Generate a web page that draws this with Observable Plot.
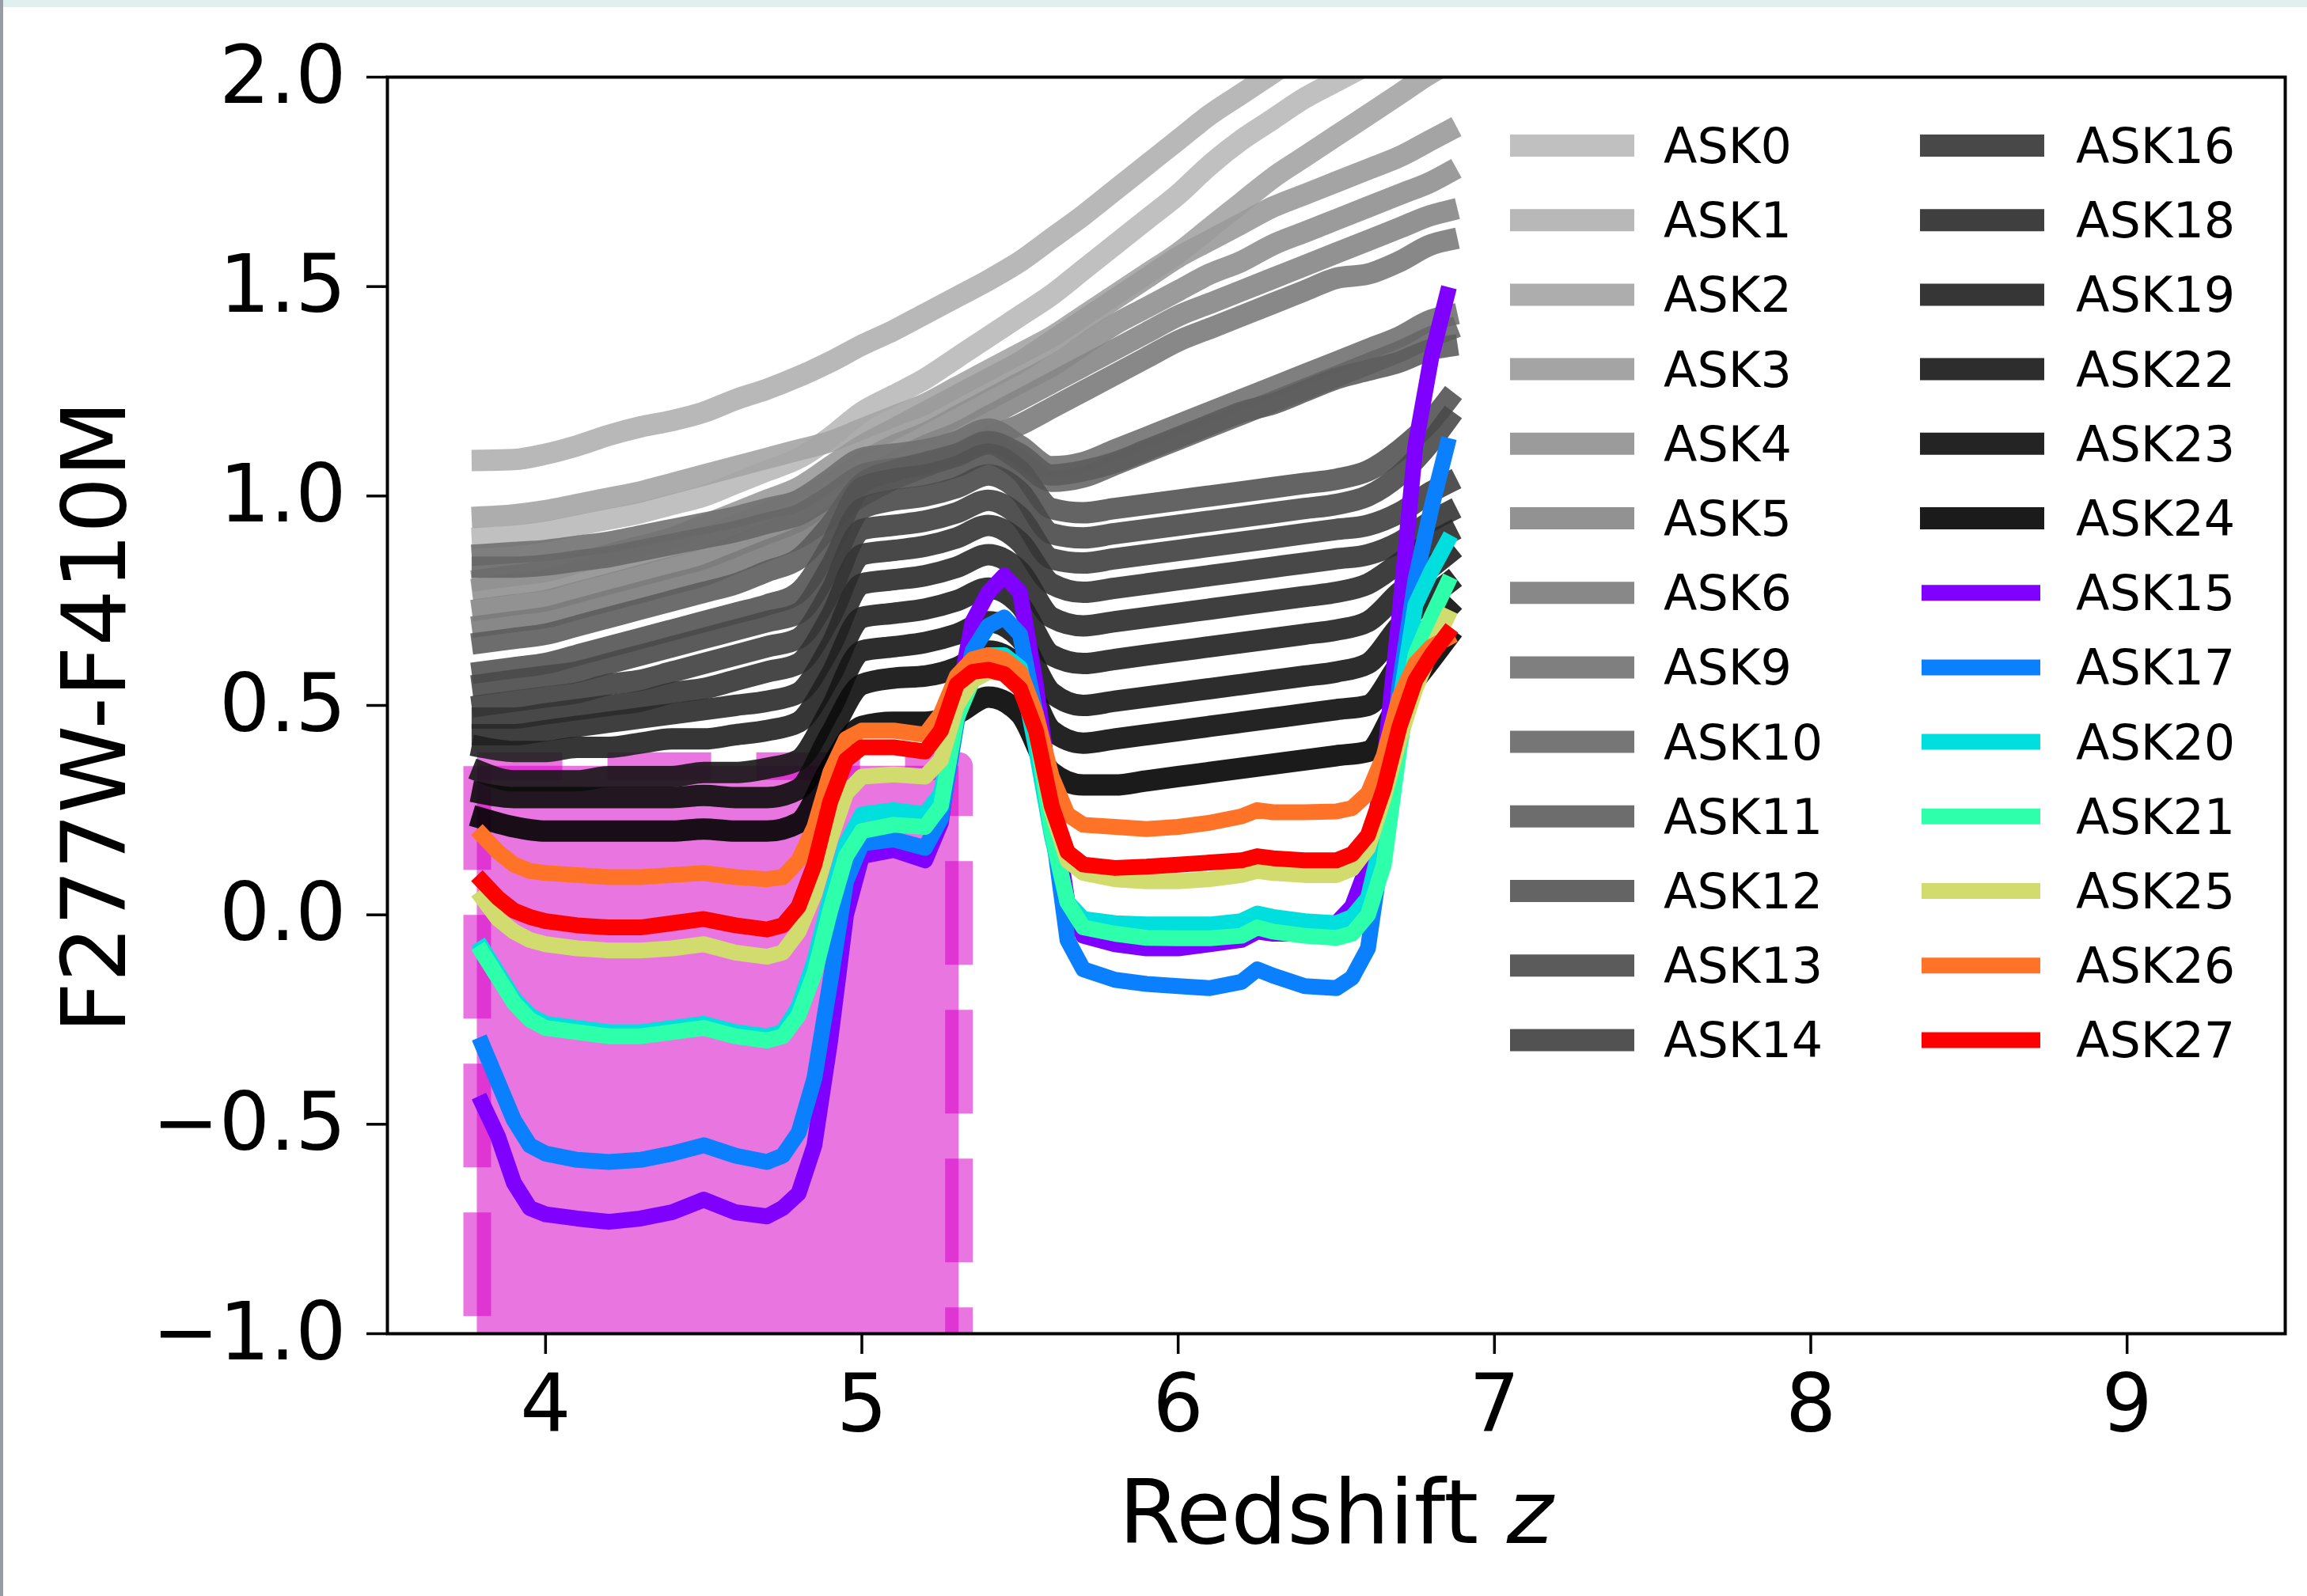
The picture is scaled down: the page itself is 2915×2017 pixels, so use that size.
<!DOCTYPE html>
<html><head><meta charset="utf-8">
<script src="https://cdn.jsdelivr.net/npm/d3@7"></script>
<script src="https://cdn.jsdelivr.net/npm/@observablehq/plot@0.6"></script>
<style>
html,body{margin:0;padding:0;background:#fff;}
#wrap{position:relative;width:2915px;height:2017px;overflow:hidden;background:#fff;}
#topband{position:absolute;left:0;top:0;width:2915px;height:9px;background:#dff0ef;}
#leftband{position:absolute;left:0;top:0;width:4px;height:2017px;background:#979da6;}
</style></head><body><div id="wrap"><div id="topband"></div><div id="leftband"></div></div>
<script>
// ---------- axes / ticks ----------
const xTicks = [4, 5, 6, 7, 8, 9];
const yTicks = [-1.0, -0.5, 0.0, 0.5, 1.0, 1.5, 2.0];
const xDomain = [3.5, 9.5];
const yDomain = [-1.0, 2.0];
const xLabel = "Redshift ";
const xLabelItalic = "z";
const yLabel = "F277W-F410M";

// ---------- highlighted redshift window ----------
const bandX = [3.784, 5.307];
const bandY = [-1.1, 0.355];

// ---------- grey templates: redshift grid ----------
const zGray = [3.8,3.9,4.0,4.1,4.2,4.3,4.4,4.5,4.6,4.7,4.8,4.9,5.0,5.1,5.2,5.3,5.4,5.5,5.6,5.7,5.8,5.9,6.0,6.1,6.2,6.3,6.4,6.5,6.6,6.7,6.8,6.85];

const ASK0  = [0.90,0.905,0.915,0.93,0.945,0.96,0.98,1.00,1.03,1.06,1.09,1.14,1.20,1.24,1.28,1.33,1.38,1.43,1.48,1.54,1.60,1.66,1.72,1.79,1.85,1.90,1.95,1.99,2.03,2.07,2.10,2.12];
const ASK1  = [1.085,1.087,1.10,1.12,1.145,1.165,1.18,1.20,1.23,1.255,1.285,1.32,1.36,1.395,1.435,1.475,1.515,1.56,1.615,1.67,1.73,1.79,1.85,1.91,1.96,2.01,2.06,2.10,2.14,2.18,2.22,2.24];
const ASK2  = [0.95,0.955,0.965,0.98,0.995,1.01,1.03,1.05,1.07,1.09,1.11,1.13,1.16,1.19,1.22,1.26,1.30,1.34,1.38,1.43,1.48,1.53,1.58,1.64,1.70,1.76,1.81,1.86,1.91,1.96,2.01,2.03];
const ASK3  = [0.80,0.81,0.82,0.84,0.86,0.88,0.90,0.93,0.96,0.99,1.02,1.07,1.12,1.16,1.20,1.24,1.28,1.32,1.37,1.42,1.47,1.52,1.57,1.61,1.65,1.69,1.72,1.75,1.78,1.81,1.85,1.87];
const ASK4  = [0.78,0.79,0.80,0.82,0.84,0.86,0.88,0.90,0.93,0.96,0.99,1.03,1.08,1.12,1.15,1.19,1.23,1.27,1.31,1.36,1.41,1.45,1.49,1.53,1.56,1.60,1.63,1.66,1.69,1.72,1.75,1.77];
const ASK5  = [0.73,0.74,0.75,0.77,0.79,0.81,0.83,0.85,0.88,0.91,0.94,0.99,1.04,1.08,1.12,1.15,1.19,1.23,1.27,1.31,1.35,1.39,1.43,1.46,1.49,1.52,1.55,1.58,1.61,1.64,1.67,1.68];
const ASK6  = [0.69,0.70,0.71,0.73,0.75,0.77,0.79,0.81,0.84,0.87,0.90,0.95,1.00,1.04,1.07,1.10,1.14,1.17,1.21,1.25,1.29,1.33,1.37,1.40,1.43,1.46,1.49,1.52,1.53,1.56,1.60,1.61];
const ASK9  = [0.86,0.865,0.87,0.88,0.89,0.905,0.92,0.935,0.95,0.97,0.99,1.04,1.09,1.10,1.11,1.13,1.16,1.12,1.07,1.08,1.11,1.14,1.17,1.20,1.23,1.26,1.29,1.32,1.35,1.38,1.42,1.43];
const ASK10 = [0.83,0.83,0.835,0.845,0.855,0.87,0.885,0.90,0.915,0.935,0.955,1.00,1.05,1.065,1.075,1.095,1.125,1.085,1.035,1.045,1.075,1.105,1.135,1.165,1.195,1.225,1.255,1.285,1.315,1.345,1.38,1.395];
const ASK11 = [0.65,0.66,0.67,0.69,0.71,0.73,0.75,0.77,0.79,0.82,0.85,0.93,1.03,1.06,1.08,1.10,1.13,1.10,1.05,1.06,1.08,1.11,1.14,1.17,1.20,1.22,1.25,1.28,1.30,1.32,1.35,1.357];
const ASK12 = [0.58,0.59,0.60,0.62,0.64,0.66,0.68,0.70,0.72,0.74,0.77,0.88,1.02,1.04,1.05,1.07,1.10,1.06,0.97,0.96,0.97,0.98,0.99,1.00,1.01,1.02,1.03,1.04,1.06,1.11,1.18,1.227];
const ASK13 = [0.55,0.56,0.57,0.58,0.60,0.62,0.64,0.66,0.68,0.70,0.72,0.83,0.97,0.99,1.00,1.02,1.05,1.01,0.91,0.90,0.91,0.92,0.93,0.94,0.95,0.96,0.97,0.98,1.00,1.05,1.13,1.18];
const ASK14 = [0.50,0.51,0.52,0.53,0.55,0.56,0.58,0.60,0.62,0.64,0.66,0.77,0.92,0.93,0.94,0.96,0.99,0.95,0.85,0.84,0.85,0.86,0.87,0.88,0.89,0.90,0.91,0.92,0.93,0.96,1.01,1.03];
const ASK16 = [0.47,0.47,0.48,0.49,0.50,0.51,0.53,0.54,0.56,0.58,0.60,0.71,0.86,0.87,0.88,0.90,0.93,0.89,0.79,0.77,0.78,0.79,0.80,0.81,0.82,0.83,0.84,0.85,0.86,0.89,0.94,0.96];
const ASK18 = [0.43,0.43,0.44,0.45,0.46,0.47,0.48,0.49,0.50,0.51,0.53,0.64,0.79,0.80,0.81,0.83,0.86,0.82,0.71,0.69,0.70,0.71,0.72,0.73,0.74,0.75,0.76,0.77,0.79,0.84,0.89,0.91];
const ASK19 = [0.40,0.39,0.39,0.40,0.40,0.41,0.42,0.42,0.43,0.44,0.46,0.57,0.71,0.72,0.73,0.75,0.78,0.74,0.62,0.60,0.61,0.62,0.63,0.64,0.65,0.66,0.67,0.68,0.70,0.77,0.83,0.86];
const ASK22 = [0.34,0.32,0.32,0.32,0.33,0.33,0.33,0.34,0.34,0.35,0.37,0.49,0.63,0.64,0.65,0.67,0.70,0.66,0.53,0.50,0.51,0.52,0.53,0.54,0.55,0.56,0.57,0.58,0.60,0.69,0.76,0.79];
const ASK23 = [0.29,0.28,0.28,0.28,0.28,0.28,0.28,0.285,0.28,0.28,0.30,0.43,0.55,0.565,0.57,0.59,0.63,0.59,0.44,0.41,0.42,0.43,0.44,0.45,0.46,0.47,0.48,0.49,0.50,0.60,0.69,0.73];
const ASK24 = [0.23,0.21,0.20,0.20,0.20,0.20,0.20,0.205,0.20,0.20,0.22,0.35,0.45,0.46,0.46,0.48,0.52,0.48,0.34,0.31,0.31,0.32,0.33,0.34,0.35,0.36,0.37,0.38,0.39,0.51,0.61,0.66];

const grayNames  = ["ASK0","ASK1","ASK2","ASK3","ASK4","ASK5","ASK6","ASK9","ASK10","ASK11","ASK12","ASK13","ASK14","ASK16","ASK18","ASK19","ASK22","ASK23","ASK24"];
const grayValues = [ASK0,ASK1,ASK2,ASK3,ASK4,ASK5,ASK6,ASK9,ASK10,ASK11,ASK12,ASK13,ASK14,ASK16,ASK18,ASK19,ASK22,ASK23,ASK24];
const grayColors = ["#b9b9b9","#b0b0b0","#a4a4a4","#9a9a9a","#909090","#868686","#7b7b7b","#717171","#676767","#5d5d5d","#535353","#494949","#3f3f3f","#343434","#2a2a2a","#202020","#161616","#0c0c0c","#020202"];

// ---------- coloured templates ----------
const zColor = [3.8,3.85,3.9,3.95,4.0,4.1,4.2,4.3,4.4,4.5,4.6,4.7,4.75,4.8,4.85,4.9,4.95,5.0,5.1,5.2,5.25,5.3,5.35,5.4,5.45,5.5,5.55,5.6,5.65,5.7,5.8,5.9,6.0,6.1,6.2,6.25,6.3,6.4,6.5,6.55,6.6,6.65,6.7,6.75,6.8,6.85];

const ASK15 = [-0.45,-0.53,-0.64,-0.70,-0.715,-0.725,-0.733,-0.725,-0.71,-0.68,-0.71,-0.72,-0.70,-0.665,-0.55,-0.30,0.0,0.14,0.155,0.13,0.22,0.50,0.70,0.77,0.81,0.77,0.55,0.28,0.03,-0.05,-0.07,-0.08,-0.08,-0.07,-0.06,-0.04,-0.045,-0.045,-0.02,0.02,0.12,0.35,0.72,1.12,1.33,1.48];
const ASK17 = [-0.31,-0.40,-0.49,-0.55,-0.57,-0.585,-0.59,-0.585,-0.57,-0.55,-0.575,-0.59,-0.575,-0.52,-0.39,-0.16,0.08,0.17,0.18,0.16,0.23,0.46,0.63,0.69,0.71,0.67,0.48,0.22,-0.06,-0.13,-0.155,-0.165,-0.17,-0.175,-0.16,-0.13,-0.145,-0.17,-0.175,-0.15,-0.08,0.18,0.55,0.80,0.97,1.12];
const ASK20 = [-0.08,-0.14,-0.20,-0.24,-0.26,-0.27,-0.28,-0.28,-0.27,-0.26,-0.28,-0.29,-0.28,-0.22,-0.11,0.04,0.17,0.24,0.25,0.24,0.29,0.48,0.59,0.62,0.62,0.59,0.40,0.19,0.03,-0.01,-0.02,-0.023,-0.023,-0.023,-0.015,0.003,-0.005,-0.015,-0.02,-0.005,0.04,0.20,0.50,0.74,0.82,0.89];
const ASK21 = [-0.09,-0.15,-0.21,-0.25,-0.27,-0.28,-0.29,-0.29,-0.28,-0.27,-0.29,-0.30,-0.29,-0.24,-0.14,0.01,0.14,0.20,0.215,0.21,0.26,0.47,0.56,0.58,0.58,0.56,0.44,0.20,0.03,-0.03,-0.045,-0.055,-0.056,-0.056,-0.05,-0.03,-0.04,-0.05,-0.055,-0.045,0.0,0.12,0.40,0.62,0.71,0.79];
const ASK25 = [0.04,-0.01,-0.04,-0.06,-0.07,-0.08,-0.085,-0.085,-0.08,-0.07,-0.09,-0.10,-0.09,-0.04,0.05,0.18,0.29,0.33,0.335,0.33,0.37,0.50,0.56,0.58,0.58,0.56,0.44,0.25,0.13,0.10,0.085,0.08,0.08,0.085,0.095,0.105,0.10,0.095,0.095,0.11,0.16,0.28,0.42,0.54,0.63,0.71];
const ASK26 = [0.19,0.15,0.12,0.105,0.10,0.095,0.09,0.09,0.095,0.10,0.09,0.085,0.09,0.13,0.21,0.34,0.42,0.44,0.44,0.43,0.48,0.57,0.61,0.62,0.61,0.58,0.48,0.33,0.24,0.215,0.21,0.205,0.21,0.22,0.235,0.25,0.245,0.245,0.247,0.255,0.29,0.38,0.52,0.60,0.64,0.66];
const ASK27 = [0.08,0.04,0.01,-0.005,-0.015,-0.025,-0.03,-0.03,-0.02,-0.01,-0.025,-0.035,-0.025,0.02,0.12,0.27,0.37,0.40,0.40,0.39,0.44,0.55,0.58,0.585,0.575,0.54,0.44,0.26,0.15,0.12,0.112,0.115,0.12,0.125,0.13,0.14,0.135,0.13,0.13,0.145,0.19,0.30,0.45,0.56,0.62,0.67];

const colorNames  = ["ASK15","ASK17","ASK20","ASK21","ASK25","ASK26","ASK27"];
const colorValues = [ASK15,ASK17,ASK20,ASK21,ASK25,ASK26,ASK27];
const colorColors = ["#8000ff","#0a80ff","#00dede","#2effaa","#d2dc6e","#ff7328","#ff0000"];

// legend columns (order as in the reference)
const legendCol1 = ["ASK0","ASK1","ASK2","ASK3","ASK4","ASK5","ASK6","ASK9","ASK10","ASK11","ASK12","ASK13","ASK14"];
const legendCol2 = ["ASK16","ASK18","ASK19","ASK22","ASK23","ASK24","ASK15","ASK17","ASK20","ASK21","ASK25","ASK26","ASK27"];

// ---------- build tables ----------
const grayTables = grayNames.map((n, i) => zGray.map((z, j) => ({name: n, z, v: grayValues[i][j]})));
const colorTables = colorNames.map((n, i) => zColor.map((z, j) => ({name: n, z, v: colorValues[i][j]})));
const bandRect = [{x1: bandX[0], x2: bandX[1], y1: bandY[0], y2: bandY[1]}];
// bottom -> right -> top edges (one dashed path), then the left edge on its own
const bandEdgeA = [
  {x: bandX[0], y: bandY[0]}, {x: bandX[1], y: bandY[0]},
  {x: bandX[1], y: bandY[1]}, {x: bandX[0], y: bandY[1]}
];
const bandEdgeB = [{x: bandX[0], y: bandY[1]}, {x: bandX[0], y: bandY[0]}];

const fmtY = d => (d < 0 ? "\u2212" : "") + Math.abs(d).toFixed(1);
const FONT = "DejaVu Sans";
const BAND_COLOR = "#d600c8";
const edgeStyle = {x: "x", y: "y", stroke: BAND_COLOR, strokeOpacity: 0.54, strokeWidth: 35,
  strokeDasharray: "131,57", strokeLinejoin: "round", strokeLinecap: "butt", clip: true};

const marks = [
  Plot.rect(bandRect, {x1: "x1", x2: "x2", y1: "y1", y2: "y2", fill: BAND_COLOR, fillOpacity: 0.54, clip: true}),
  Plot.line(bandEdgeA, edgeStyle),
  Plot.line(bandEdgeB, edgeStyle),
  ...grayTables.map((t, i) => Plot.line(t, {x: "z", y: "v", stroke: grayColors[i], strokeOpacity: 0.9,
    strokeWidth: 27, strokeLinecap: "square", strokeLinejoin: "round", curve: "monotone-x", clip: true})),
  ...colorTables.map((t, i) => Plot.line(t, {x: "z", y: "v", stroke: colorColors[i],
    strokeWidth: 20, strokeLinecap: "square", strokeLinejoin: "round", clip: true})),
  Plot.axisX({ticks: xTicks, tickSize: 26, tickPadding: 26, tickFormat: d => String(d), label: null, strokeWidth: 3.5}),
  Plot.axisY({ticks: yTicks, tickSize: 26, tickPadding: 26, tickFormat: fmtY, label: null, strokeWidth: 3.5}),
  Plot.frame({stroke: "black", strokeWidth: 4})
];

const chart = Plot.plot({
  width: 2915, height: 2017,
  marginLeft: 489, marginRight: 28, marginTop: 97, marginBottom: 332,
  x: {domain: xDomain},
  y: {domain: yDomain},
  style: {fontFamily: FONT, fontSize: "101px", color: "black", background: "transparent"},
  marks
});
chart.style.position = "absolute";
chart.style.left = "0px";
chart.style.top = "0px";
document.getElementById("wrap").appendChild(chart);

// ---------- axis labels ----------
const svg = d3.select(chart);
const xl = svg.append("text")
  .attr("x", 1688).attr("y", 1950)
  .attr("text-anchor", "middle")
  .attr("font-family", FONT).attr("font-size", 112).attr("fill", "black");
xl.append("tspan").text(xLabel);
xl.append("tspan").attr("font-style", "italic").text(xLabelItalic);

svg.append("text")
  .attr("transform", "translate(158,906) rotate(-90)")
  .attr("text-anchor", "middle")
  .attr("font-family", FONT).attr("font-size", 112).attr("fill", "black")
  .text(yLabel);

// ---------- legend ----------
const colorOf = new Map();
grayNames.forEach((n, i) => colorOf.set(n, {c: grayColors[i], o: 0.9, w: 28, gray: true}));
colorNames.forEach((n, i) => colorOf.set(n, {c: colorColors[i], o: 1, w: 20, gray: false}));
const lg = svg.append("g").attr("font-family", FONT).attr("font-size", 62)
  .attr("fill", "black").attr("text-anchor", "start");
const cols = [
  {names: legendCol1, gx1: 1908, gx2: 2065, cx1: 1910, cx2: 2060, tx: 2102},
  {names: legendCol2, gx1: 2426, gx2: 2583, cx1: 2428, cx2: 2578, tx: 2623}
];
cols.forEach(col => {
  col.names.forEach((n, i) => {
    const y = 184 + i * 94.2;
    const s = colorOf.get(n);
    lg.append("line")
      .attr("x1", s.gray ? col.gx1 : col.cx1).attr("x2", s.gray ? col.gx2 : col.cx2)
      .attr("y1", y).attr("y2", y)
      .attr("stroke", s.c).attr("stroke-opacity", s.o).attr("stroke-width", s.w);
    lg.append("text").attr("x", col.tx).attr("y", y + 22).attr("text-anchor", "start").text(n);
  });
});
</script></body></html>
